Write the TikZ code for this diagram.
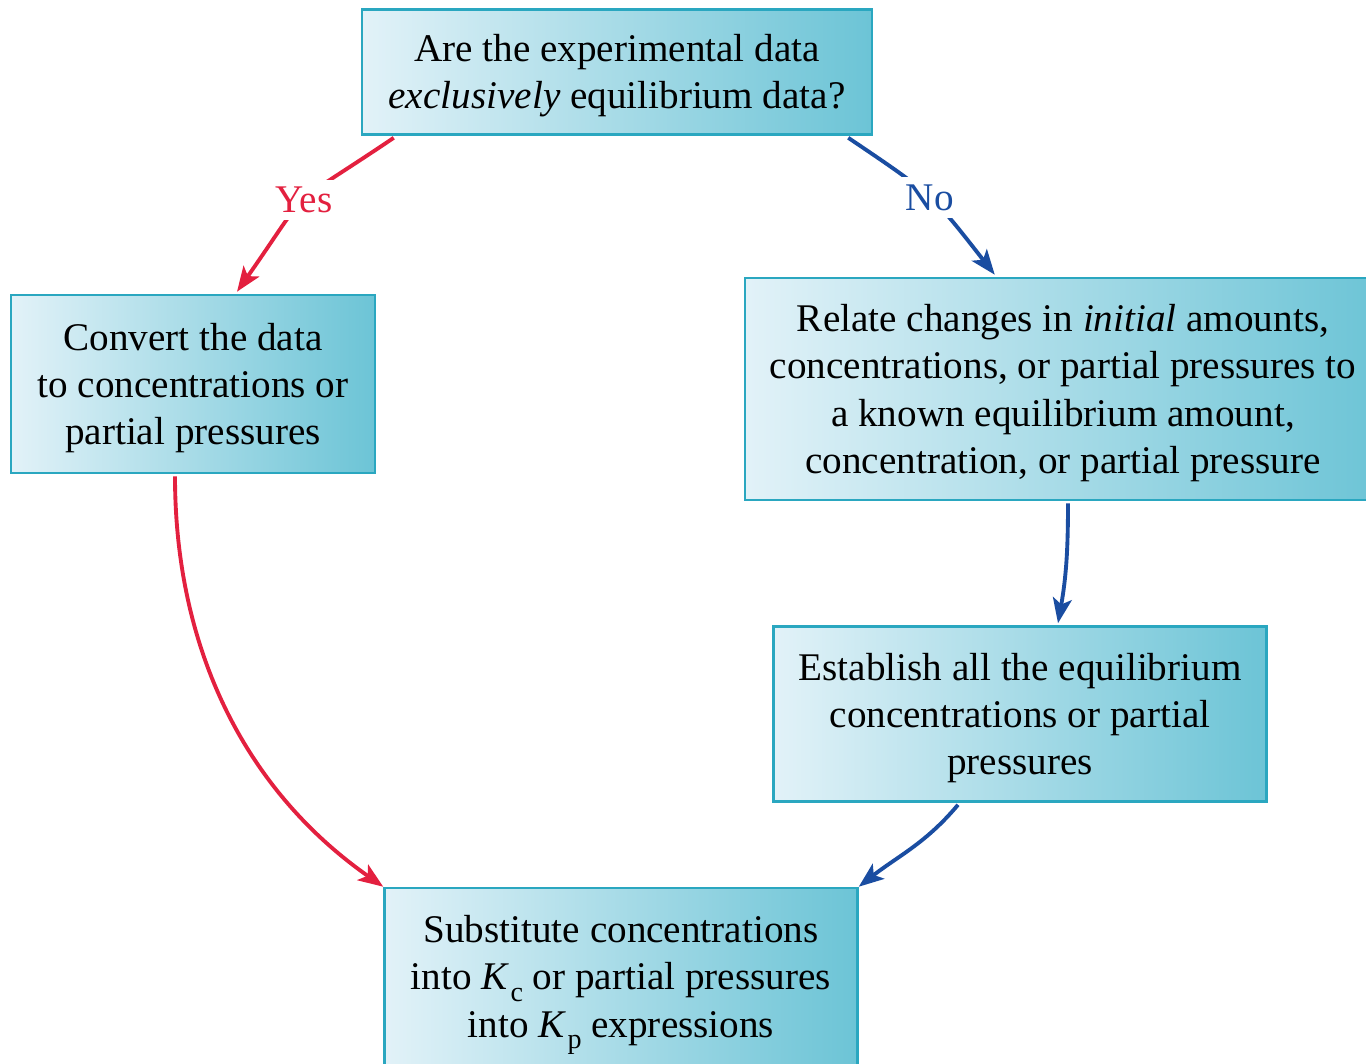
\documentclass[tikz,border=0pt]{standalone}
\usepackage{fontspec}
\setmainfont{Liberation Serif}
\usetikzlibrary{calc}
\usetikzlibrary{arrows.meta}

\definecolor{boxlight}{HTML}{E2F2F8}
\definecolor{boxdark}{HTML}{6CC4D6}
\definecolor{boxedge}{HTML}{2AA7C0}
\definecolor{yesred}{HTML}{E3203F}
\definecolor{noblue}{HTML}{1A4DA1}

% equilibrium constants with upright subscripts
\newcommand{\Kc}{\textit{K}\kern0.03em\raisebox{-0.65ex}{\fontsize{16}{16}\selectfont c}}
\newcommand{\Kp}{\textit{K}\kern0.03em\raisebox{-0.65ex}{\fontsize{16}{16}\selectfont p}}
% taller first line, pushes the text a little down in its box
\newcommand{\boxstrut}{\rule{0pt}{20pt}}

\begin{document}
\begin{tikzpicture}[x=0.02cm,y=0.02cm,
    stepbox/.style={draw=boxedge,line width=1.5pt,left color=boxlight,right color=boxdark,
        align=center,inner sep=0pt,font=\fontsize{22.3}{26.9}\selectfont},
    flow/.style={line width=2.2pt,-{Stealth[length=5mm,width=3.8mm,inset=1.2mm]}},
    answer/.style={fill=white,inner sep=4pt,font=\fontsize{22.3}{26.9}\selectfont}]

    \useasboundingbox (0,0) rectangle (1366,-1063);

    % Define the centres of the boxes
    \coordinate (Cq) at (617,-72);
    \coordinate (Cconv) at (193,-384);
    \coordinate (Crel) at (1063,-389);
    \coordinate (Cest) at (1020,-714);
    \coordinate (Csub) at (621,-981);

    % Draw the boxes
    \node[stepbox,minimum width=10.2cm,minimum height=2.5cm] (question) at (Cq)
        {\boxstrut Are the experimental data\\ \textit{exclusively} equilibrium data?};
    \node[stepbox,minimum width=7.28cm,minimum height=3.56cm] (convert) at (Cconv)
        {\boxstrut Convert the data\\ to concentrations or\\ partial pressures};
    \node[stepbox,minimum width=12.72cm,minimum height=4.44cm] (relate) at (Crel)
        {\boxstrut Relate changes in \textit{initial} amounts,\\ concentrations, or partial pressures to\\
         a known equilibrium amount,\\ concentration, or partial pressure};
    \node[stepbox,minimum width=9.86cm,minimum height=3.5cm] (establish) at (Cest)
        {\boxstrut Establish all the equilibrium\\ concentrations or partial\\ pressures};
    \node[stepbox,minimum width=9.46cm,minimum height=3.72cm] (substitute) at (Csub)
        {\boxstrut Substitute concentrations\\ into \Kc{} or partial pressures\\ into \Kp{} expressions};

    % Draw the yes branch
    \draw[flow,yesred] ($(question.south west)+(33,-2)$) to[out=-146,in=55,looseness=1.6]
        node[answer,text=yesred,pos=0.48] (yes) {Yes} ($(convert.north)+(44,2)$);
    \draw[flow,yesred] ($(convert.south)+(-18,-2)$) to[out=-90,in=145,looseness=0.95]
        (substitute.north west);

    % Draw the no branch
    \draw[flow,noblue] ($(question.south east)+(-25,-2)$) to[out=-34,in=128,looseness=1.3]
        node[answer,text=noblue,pos=0.5] (no) {No} ($(relate.north west)+(251,2)$);
    \draw[flow,noblue] ($(relate.south)+(5,-2)$) to[out=-90,in=80] ($(establish.north)+(38,2)$);
    \draw[flow,noblue] ($(establish.south)+(-62,-2)$) to[out=-130,in=38] (substitute.north east);

\end{tikzpicture}
\end{document}
